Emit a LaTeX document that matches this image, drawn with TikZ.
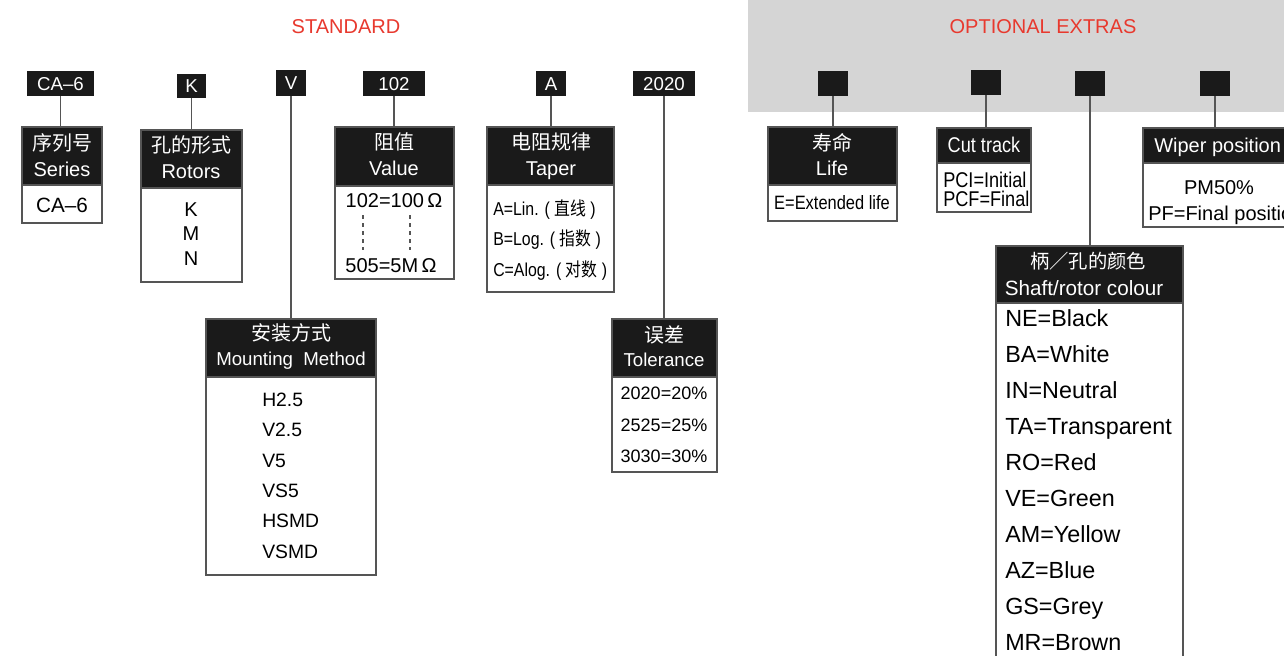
\documentclass[tikz,border=0pt]{standalone}
\usepackage{fontspec}
\setmainfont{Liberation Sans}
\newfontfamily\cjk{Noto Sans CJK SC}
\newfontfamily\narrow[FakeStretch=0.85]{Liberation Sans}
\newfontfamily\cjkn[FakeStretch=0.85]{Noto Sans CJK SC}
\usetikzlibrary{fit}
\definecolor{redt}{HTML}{E8392E}
\definecolor{band}{HTML}{D5D5D5}
\definecolor{hdr}{HTML}{1A1A1A}
\definecolor{edge}{HTML}{555555}
\newcommand\fs[1]{\fontsize{#1}{#1}\selectfont}
\tikzset{
  sz/.style={font=\fs{#1}, yshift={-0.36*#1pt}},
  nsz/.style={font=\narrow\fs{#1}, yshift={-0.36*#1pt}},
  tx/.style={inner sep=0, text height=0pt, text depth=0pt},
  codebox/.style={fill=hdr, inner sep=0},
  codet/.style={tx, text=white, sz=14},
  hbox/.style={fill=hdr, draw=edge, line width=1pt, inner sep=0},
  bbox/.style={fill=white, draw=edge, line width=1pt, inner sep=0},
  conn/.style={draw=edge, line width=1.2pt},
  wt/.style={tx, text=white},
  bt/.style={tx, text=black},
  title/.style={tx, text=redt, sz=15},
  dots/.style={draw=edge, line width=0.8pt, dash pattern=on 3pt off 3pt}
}
\begin{document}
\begin{tikzpicture}[x=0.75pt,y=-0.75pt]
\useasboundingbox (0,0) rectangle (1284,656);
\clip (0,0) rectangle (1284,656);
\fill[white] (0,0) rectangle (1284,656);
% band
\node[fit={(748,-5) (1295,112)}, fill=band, inner sep=0] (bandbox) {};
% titles
\node[title] (tstd) at (346,26) {STANDARD};
\node[title] (topt) at (1043,26) {OPTIONAL EXTRAS};

% code boxes
\node[codebox, fit={(27,71) (94,96)}] (ca6) {};
\node[codet] (ca6t) at (ca6.center) {CA–6};
\node[codebox, fit={(177,74) (206,98)}] (kb) {};
\node[codet] (kbt) at (kb.center) {K};
\node[codebox, fit={(276,70) (306,96)}] (vb) {};
\node[codet] (vbt) at (vb.center) {V};
\node[codebox, fit={(363,71) (425,96)}] (vlb) {};
\node[codet] (vlbt) at (vlb.center) {102};
\node[codebox, fit={(536,71) (566,96)}] (ab) {};
\node[codet] (abt) at (ab.center) {A};
\node[codebox, fit={(633,71) (695,96)}] (tb) {};
\node[codet] (tbt) at (tb.center) {2020};
\node[codebox, fit={(818,71) (848,96)}] (lb) {};
\node[codebox, fit={(971,70) (1001,95)}] (cb) {};
\node[codebox, fit={(1075,71) (1105,96)}] (sb) {};
\node[codebox, fit={(1200,71) (1230,96)}] (wb) {};

% Series
\node[bbox, fit={(22,127) (102,223)}] (serB) {};
\node[hbox, fit={(22,127) (102,185)}] (serH) {};
\node[wt, sz=15] (ser1) at (62,143) {\cjk 序列号};
\node[wt, sz=15] (ser2) at (62,169) {Series};
\node[bt, sz=15.5] (ser3) at (62,205) {CA–6};

% Rotors
\node[bbox, fit={(141,130) (242,282)}] (rotB) {};
\node[hbox, fit={(141,130) (242,188)}] (rotH) {};
\node[wt, sz=15] (rot1) at (191,145) {\cjk 孔的形式};
\node[wt, sz=15] (rot2) at (191,171) {Rotors};
\node[bt, sz=15] (rot3) at (191,209) {K};
\node[bt, sz=15] (rot4) at (191,233) {M};
\node[bt, sz=15] (rot5) at (191,258) {N};

% Value
\node[bbox, fit={(335,127) (454,279)}] (valB) {};
\node[hbox, fit={(335,127) (454,186)}] (valH) {};
\node[wt, sz=15] (val1) at (394,142) {\cjk 阻值};
\node[wt, sz=15] (val2) at (394,168) {Value};
\node[bt, sz=15] (val3) at (394,200) {102=100\,Ω};
\node[bt, sz=15] (val4) at (391,265) {505=5M\,Ω};
\draw[dots] (363,215) -- (363,250);
\draw[dots] (410,215) -- (410,250);

% Taper
\node[bbox, fit={(487,127) (614,292)}] (tapB) {};
\node[hbox, fit={(487,127) (614,185)}] (tapH) {};
\node[wt, sz=15] (tap1) at (551,142) {\cjk 电阻规律};
\node[wt, sz=15] (tap2) at (551,168) {Taper};
\node[bt, anchor=west, nsz=14] (tap3) at (493,209) {A=Lin. ( {\cjkn 直线} )};
\node[bt, anchor=west, nsz=14] (tap4) at (493,239) {B=Log. ( {\cjkn 指数} )};
\node[bt, anchor=west, nsz=14] (tap5) at (493,270) {C=Alog. ( {\cjkn 对数} )};

% Mounting
\node[bbox, fit={(206,319) (376,575)}] (mouB) {};
\node[hbox, fit={(206,319) (376,377)}] (mouH) {};
\node[wt, sz=15] (mou1) at (291,333) {\cjk 安装方式};
\node[wt, sz=14] (mou2) at (291,359) {Mounting\ \ Method};
\foreach \t/\yy [count=\i] in {H2.5/400, V2.5/430, V5/461, VS5/491, HSMD/521, VSMD/552}
  \node[bt, anchor=west, sz=14.5] (mou\i) at (262,\yy) {\t};

% Tolerance
\node[bbox, fit={(612,319) (717,472)}] (tolB) {};
\node[hbox, fit={(612,319) (717,377)}] (tolH) {};
\node[wt, sz=15] (tol1) at (664,335) {\cjk 误差};
\node[wt, sz=14] (tol2) at (664,360) {Tolerance};
\node[bt, sz=13.5] (tol3) at (664,393) {2020=20\%};
\node[bt, sz=13.5] (tol4) at (664,425) {2525=25\%};
\node[bt, sz=13.5] (tol5) at (664,456) {3030=30\%};

% Life
\node[bbox, fit={(768,127) (897,221)}] (lifB) {};
\node[hbox, fit={(768,127) (897,185)}] (lifH) {};
\node[wt, sz=15] (lif1) at (832,143) {\cjk 寿命};
\node[wt, sz=15] (lif2) at (832,168) {Life};
\node[bt, nsz=14.5] (lif3) at (832,203) {E=Extended life};

% Cut track
\node[bbox, fit={(937,128) (1031,212)}] (cutB) {};
\node[hbox, fit={(937,128) (1031,163)}] (cutH) {};
\node[wt, nsz=16] (cut1) at (984,145) {Cut track};
\node[bt, anchor=west, nsz=16] (cut2) at (943,180) {PCI=Initial};
\node[bt, anchor=west, nsz=16] (cut3) at (943,199) {PCF=Final};

% Wiper
\node[bbox, fit={(1143,128) (1300,227)}] (wipB) {};
\node[hbox, fit={(1143,128) (1300,163)}] (wipH) {};
\node[wt, anchor=west, sz=15] (wip1) at (1154,145) {Wiper position};
\node[bt, sz=15] (wip2) at (1219,187) {PM50\%};
\node[bt, anchor=west, sz=15] (wip3) at (1148,213) {PF=Final position};

% Shaft colour
\node[bbox, fit={(996,246) (1183,670)}] (shaB) {};
\node[hbox, fit={(996,246) (1183,303)}] (shaH) {};
\node[wt, sz=14.5] (sha1) at (1088,262) {\cjk 柄／孔的颜色};
\node[wt, sz=15.5] (sha2) at (1084,288) {Shaft/rotor colour};
\foreach \t [count=\i] in {NE=Black, BA=White, IN=Neutral, TA=Transparent, RO=Red, VE=Green, AM=Yellow, AZ=Blue, GS=Grey, MR=Brown}
  \node[bt, anchor=west, sz=17.5] (shc\i) at (1005,{318+36*(\i-1)}) {\t};

% connectors
\draw[conn] (ca6.south) -- (ca6.south |- serH.north);
\draw[conn] (kb.south) -- (kb.south |- rotH.north);
\draw[conn] (vb.south) -- (vb.south |- mouH.north);
\draw[conn] (vlb.south) -- (vlb.south |- valH.north);
\draw[conn] (ab.south) -- (ab.south |- tapH.north);
\draw[conn] (tb.south) -- (tb.south |- tolH.north);
\draw[conn] (lb.south) -- (lb.south |- lifH.north);
\draw[conn] (cb.south) -- (cb.south |- cutH.north);
\draw[conn] (sb.south) -- (sb.south |- shaH.north);
\draw[conn] (wb.south) -- (wb.south |- wipH.north);
\end{tikzpicture}
\end{document}
